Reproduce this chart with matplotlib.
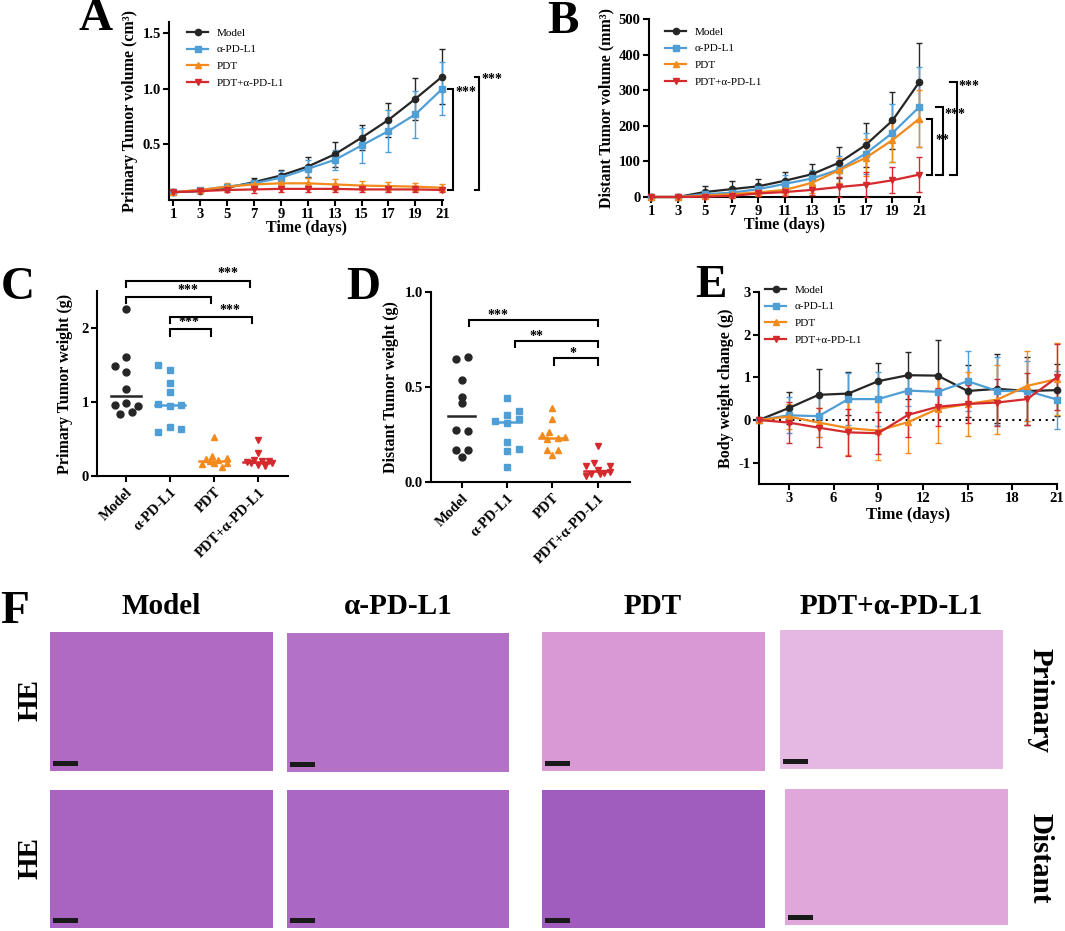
import numpy as np
import matplotlib
matplotlib.use('Agg')
import matplotlib.pyplot as plt
from matplotlib.lines import Line2D
from matplotlib.patches import Rectangle

plt.rcParams['font.family'] = ['Liberation Serif', 'DejaVu Serif']
plt.rcParams['font.weight'] = 'bold'
plt.rcParams['axes.labelweight'] = 'bold'
plt.rcParams['axes.unicode_minus'] = False

# ---------------- data ----------------
groups = ['Model', 'α-PD-L1', 'PDT', 'PDT+α-PD-L1']
colors = ['#262626', '#4f9fd6', '#f28a1c', '#d42a2e']
markers = ['o', 's', '^', 'v']

days = [1, 3, 5, 7, 9, 11, 13, 15, 17, 19, 21]

# A: primary tumor volume (cm3)
A_mean = [
    [0.07, 0.08, 0.11, 0.16, 0.22, 0.30, 0.41, 0.56, 0.72, 0.91, 1.11],
    [0.07, 0.09, 0.12, 0.15, 0.20, 0.28, 0.36, 0.49, 0.62, 0.77, 1.00],
    [0.07, 0.09, 0.12, 0.14, 0.15, 0.15, 0.14, 0.13, 0.125, 0.12, 0.11],
    [0.07, 0.08, 0.09, 0.095, 0.10, 0.10, 0.10, 0.095, 0.095, 0.095, 0.09],
]
A_err = [
    [0.0, 0.01, 0.02, 0.04, 0.05, 0.09, 0.11, 0.11, 0.15, 0.19, 0.25],
    [0.0, 0.01, 0.02, 0.03, 0.06, 0.08, 0.09, 0.16, 0.19, 0.21, 0.24],
    [0.0, 0.02, 0.03, 0.03, 0.04, 0.05, 0.05, 0.04, 0.04, 0.035, 0.03],
    [0.0, 0.01, 0.02, 0.03, 0.03, 0.03, 0.03, 0.025, 0.025, 0.025, 0.02],
]

# B: distant tumor volume (mm3)
B_mean = [
    [0, 0, 14, 22, 30, 46, 64, 96, 146, 215, 323],
    [0, 0, 8, 12, 22, 37, 52, 77, 122, 180, 253],
    [0, 0, 4, 8, 13, 20, 40, 75, 110, 160, 220],
    [0, 0, 1, 3, 10, 14, 20, 28, 35, 47, 63],
]
B_err = [
    [0, 0, 16, 22, 20, 24, 29, 44, 61, 81, 110],
    [0, 0, 8, 10, 15, 25, 23, 38, 58, 82, 112],
    [0, 0, 5, 8, 10, 15, 28, 35, 52, 62, 80],
    [0, 0, 3, 5, 8, 10, 15, 27, 35, 37, 50],
]

# C: primary tumor weight (g)
C_vals = [
    [2.26, 1.61, 1.48, 1.41, 1.17, 0.96, 0.99, 0.95, 0.84, 0.86],
    [1.50, 1.43, 1.26, 1.14, 0.97, 0.95, 0.96, 0.66, 0.59, 0.63],
    [0.53, 0.27, 0.23, 0.21, 0.24, 0.16, 0.17, 0.12, 0.18, 0.20],
    [0.49, 0.31, 0.21, 0.20, 0.20, 0.19, 0.17, 0.15, 0.14, 0.18],
]
# D: distant tumor weight (g)
D_vals = [
    [0.645, 0.66, 0.535, 0.45, 0.415, 0.275, 0.27, 0.17, 0.17, 0.13],
    [0.44, 0.355, 0.375, 0.32, 0.31, 0.33, 0.21, 0.165, 0.175, 0.08],
    [0.39, 0.33, 0.265, 0.245, 0.23, 0.225, 0.235, 0.17, 0.17, 0.14],
    [0.19, 0.085, 0.10, 0.085, 0.03, 0.04, 0.065, 0.045, 0.05, 0.04],
]

# E: body weight change (g)
E_mean = [
    [0, 0.28, 0.59, 0.62, 0.91, 1.05, 1.04, 0.68, 0.73, 0.68, 0.70],
    [0, 0.11, 0.09, 0.49, 0.49, 0.69, 0.66, 0.91, 0.68, 0.68, 0.48],
    [0, 0.08, -0.06, -0.19, -0.25, -0.05, 0.26, 0.375, 0.48, 0.80, 0.96],
    [0, -0.06, -0.18, -0.29, -0.31, 0.12, 0.31, 0.375, 0.41, 0.49, 1.00],
]
E_err = [
    [0, 0.37, 0.60, 0.51, 0.42, 0.55, 0.84, 0.62, 0.81, 0.80, 0.61],
    [0, 0.42, 0.50, 0.60, 0.63, 0.36, 0.40, 0.71, 0.80, 0.70, 0.68],
    [0, 0.30, 0.35, 0.63, 0.69, 0.73, 0.79, 0.75, 0.81, 0.82, 0.85],
    [0, 0.49, 0.45, 0.55, 0.49, 0.53, 0.44, 0.45, 0.55, 0.60, 0.77],
]

# F: histology panels (mean stain colour of each micrograph)
he_cols = ['Model', 'α-PD-L1', 'PDT', 'PDT+α-PD-L1']
he_rows = ['Primary', 'Distant']
he_colors = [
    ['#B06AC4', '#B372C6', '#D899D5', '#E4B8E1'],
    ['#A964C2', '#AA67C3', '#A15DBE', '#DFA7DA'],
]

# ---------------- layout helpers ----------------
W, H = 1065, 931
fig = plt.figure(figsize=(W / 100, H / 100), dpi=100)


def ax_px(l, t, r, b):
    return fig.add_axes([l / W, 1 - b / H, (r - l) / W, (b - t) / H])


def style(ax):
    for s in ['top', 'right']:
        ax.spines[s].set_visible(False)
    for s in ['left', 'bottom']:
        ax.spines[s].set_linewidth(1.5)
    ax.tick_params(direction='out', length=4, width=1.5, labelsize=10.5, pad=2)


LAB = 11.5
leg_font = {'family': ['Liberation Serif', 'DejaVu Serif'], 'weight': 'normal', 'size': 8}


def legend(ax, xpx, ypx):
    handles = [Line2D([], [], color=c, marker=m, ms=4.5, lw=1.6) for c, m in zip(colors, markers)]
    ax.legend(handles, groups, loc='upper left', bbox_to_anchor=(xpx / W, 1 - ypx / H),
              bbox_transform=fig.transFigure, frameon=False, prop=leg_font,
              handlelength=1.9, handletextpad=0.8, labelspacing=0.62,
              borderpad=0, borderaxespad=0)


def growth(ax, means, errs):
    for mv, ev, c, m in zip(means, errs, colors, markers):
        ax.errorbar(days, mv, yerr=ev, color=c, marker=m, ms=4.5, lw=1.6,
                    elinewidth=1.0, capsize=2.5, capthick=1.0, clip_on=False,
                    ecolor=c, zorder=3)


def bracket_v(ax, x0, x1, ytop, ybot):
    ax.plot([x0, x1, x1, x0], [ytop, ytop, ybot, ybot], color='k', lw=1.5,
            clip_on=False, solid_joinstyle='miter')


def bracket_h(ax, x0, x1, y, ydrop):
    ax.plot([x0, x0, x1, x1], [y - ydrop, y, y, y - ydrop], color='k', lw=1.5,
            clip_on=False, solid_joinstyle='miter')


def star(ax, x, y, s, ha='center'):
    ax.text(x, y, s, ha=ha, va='center', fontsize=10, fontweight='bold', clip_on=False)


# ---------------- A ----------------
axA = ax_px(169, 22, 443, 200)
style(axA)
growth(axA, A_mean, A_err)
axA.set_xlim(0.7, 21.05)
axA.set_ylim(0, 1.6)
axA.set_xticks(days)
axA.set_yticks([0.5, 1.0, 1.5])
axA.set_yticklabels(['0.5', '1.0', '1.5'])
axA.set_xlabel('Time (days)', fontsize=LAB, labelpad=-1)
axA.set_ylabel('Primary Tumor volume (cm³)', fontsize=LAB, labelpad=3)
legend(axA, 187, 28)
bracket_v(axA, 21.45, 21.8, A_mean[1][-1], A_mean[3][-1])
bracket_v(axA, 23.45, 23.75, A_mean[0][-1], A_mean[3][-1])
star(axA, 22.0, 0.97, '***', ha='left')
star(axA, 23.9, 1.08, '***', ha='left')

# ---------------- B ----------------
axB = ax_px(649, 19, 920, 197)
style(axB)
growth(axB, B_mean, B_err)
axB.set_xlim(0.85, 21.05)
axB.set_ylim(0, 500)
axB.set_xticks(days)
axB.set_yticks([0, 100, 200, 300, 400, 500])
axB.set_xlabel('Time (days)', fontsize=LAB, labelpad=-1)
axB.set_ylabel('Distant Tumor volume (mm³)', fontsize=LAB, labelpad=3)
legend(axB, 665, 27)
bracket_v(axB, 21.6, 21.97, B_mean[2][-1], B_mean[3][-1])
bracket_v(axB, 22.25, 22.78, B_mean[1][-1], B_mean[3][-1])
bracket_v(axB, 23.3, 23.8, B_mean[0][-1], B_mean[3][-1])
star(axB, 22.2, 160, '**', ha='left')
star(axB, 22.9, 232, '***', ha='left')
star(axB, 23.9, 310, '***', ha='left')

# ---------------- C / D scatter ----------------
C_off = [
    [0, 0, -0.26, 0, 0, -0.26, 0, 0.27, -0.13, 0.13],
    [-0.27, 0, 0, 0, -0.27, 0, 0.26, 0, -0.27, 0.26],
    [0, -0.05, -0.18, 0.08, 0.29, -0.28, 0.0, 0.17, 0.3, -0.1],
    [0, 0, -0.1, 0.1, 0.25, -0.25, -0.15, 0.0, 0.15, 0.32],
]
D_off = [
    [-0.13, 0.13, 0, 0, 0, -0.13, 0.13, -0.13, 0.13, 0],
    [0, 0, 0.27, -0.27, 0, 0.27, 0, 0, 0.27, 0],
    [0, 0, -0.07, -0.24, 0.13, -0.13, 0.27, -0.11, 0.13, 0],
    [0, -0.26, -0.09, 0.26, -0.26, -0.15, 0, 0.13, 0.26, 0.05],
]


def dots(ax, vals, offs, half):
    for i, (v, o, c, m) in enumerate(zip(vals, offs, colors, markers)):
        ax.plot(np.array(o) + i, v, ls='none', marker=m, ms=5, color=c, mec=c, clip_on=False, zorder=3)
        med = np.median(v)
        ax.plot([i - half, i + half], [med, med], color=c, lw=1.8, zorder=4)
    ax.set_xticks(range(len(groups)))
    ax.set_xticklabels(groups, rotation=45, ha='right', rotation_mode='anchor', fontsize=10.5)
    ax.tick_params(axis='x', length=4, pad=3)


axC = ax_px(97, 291, 288, 476)
style(axC)
dots(axC, C_vals, C_off, 0.34)
axC.set_xlim(-0.66, 3.68)
axC.set_ylim(0, 2.5)
axC.set_yticks([0, 1, 2])
axC.set_ylabel('Primary Tumor weight (g)', fontsize=LAB, labelpad=6)
bracket_h(axC, 0, 2.82, 2.64, 0.09)
bracket_h(axC, 0, 1.93, 2.42, 0.08)
bracket_h(axC, 1, 2.86, 2.15, 0.08)
bracket_h(axC, 1, 1.93, 1.99, 0.10)
star(axC, 2.32, 2.73, '***')
star(axC, 1.40, 2.50, '***')
star(axC, 2.37, 2.23, '***')
star(axC, 1.43, 2.07, '***')

axD = ax_px(431, 292, 630, 482)
style(axD)
dots(axD, D_vals, D_off, 0.3)
axD.set_xlim(-0.68, 3.71)
axD.set_ylim(0, 1.0)
axD.set_yticks([0, 0.5, 1.0])
axD.set_yticklabels(['0.0', '0.5', '1.0'])
axD.set_ylabel('Distant Tumor weight (g)', fontsize=LAB, labelpad=4)
bracket_h(axD, 0.15, 3.0, 0.853, 0.033)
bracket_h(axD, 1.17, 3.0, 0.742, 0.032)
bracket_h(axD, 2.03, 3.0, 0.653, 0.037)
star(axD, 0.8, 0.875, '***')
star(axD, 1.65, 0.765, '**')
star(axD, 2.45, 0.675, '*')

# ---------------- E ----------------
axE = ax_px(759, 292, 1057, 484)
style(axE)
axE.plot([1, 21], [0, 0], color='k', lw=1.5, ls=(0, (1, 2.2)), zorder=1)
growth(axE, E_mean, E_err)
axE.set_xlim(1, 21)
axE.set_ylim(-1.5, 3)
axE.set_xticks([3, 6, 9, 12, 15, 18, 21])
axE.set_yticks([-1, 0, 1, 2, 3])
axE.set_xlabel('Time (days)', fontsize=LAB + 0.5, labelpad=1)
axE.set_ylabel('Body weight change (g)', fontsize=LAB, labelpad=3)
legend(axE, 765, 285)

# ---------------- F: histology ----------------
img_boxes = [
    [(50, 632, 273, 771), (287, 633, 509, 772), (542, 632, 765, 771), (780, 630, 1003, 769)],
    [(50, 790, 273, 928), (287, 790, 509, 928), (542, 790, 765, 928), (785, 789, 1008, 925)],
]
for r in range(2):
    for c in range(4):
        l, t, rr, b = img_boxes[r][c]
        ax = ax_px(l, t, rr, b)
        ax.set_facecolor(he_colors[r][c])
        ax.set_xticks([])
        ax.set_yticks([])
        for s in ax.spines.values():
            s.set_visible(False)
        ax.set_xlim(0, rr - l)
        ax.set_ylim(b - t, 0)
        ax.add_patch(Rectangle((3, b - t - 10), 25, 5, color='#1a1a1a', lw=0))

col_cx = [161, 398, 653, 891]
for cx, name in zip(col_cx, he_cols):
    fig.text(cx / W, 1 - 607 / H, name, ha='center', va='center', fontsize=21, fontweight='bold')
for yc, name in zip([700, 858], he_rows):
    fig.text(30 / W, 1 - yc / H, 'HE', ha='center', va='center', rotation=90, fontsize=21, fontweight='bold')
    fig.text(1040 / W, 1 - yc / H, name, ha='center', va='center', rotation=-90, fontsize=21, fontweight='bold')

# panel letters
for (x, y, s) in [(96, 19, 'A'), (18, 288, 'C'), (363, 288, 'D'), (711, 286, 'E'), (15, 612, 'F')]:
    fig.text(x / W, 1 - y / H, s, ha='center', va='center', fontsize=34, fontweight='bold')
fig.text(563 / W, 1 - 1 / H, 'B', ha='center', va='top', fontsize=34, fontweight='bold')

fig.savefig('out.png', dpi=100)
